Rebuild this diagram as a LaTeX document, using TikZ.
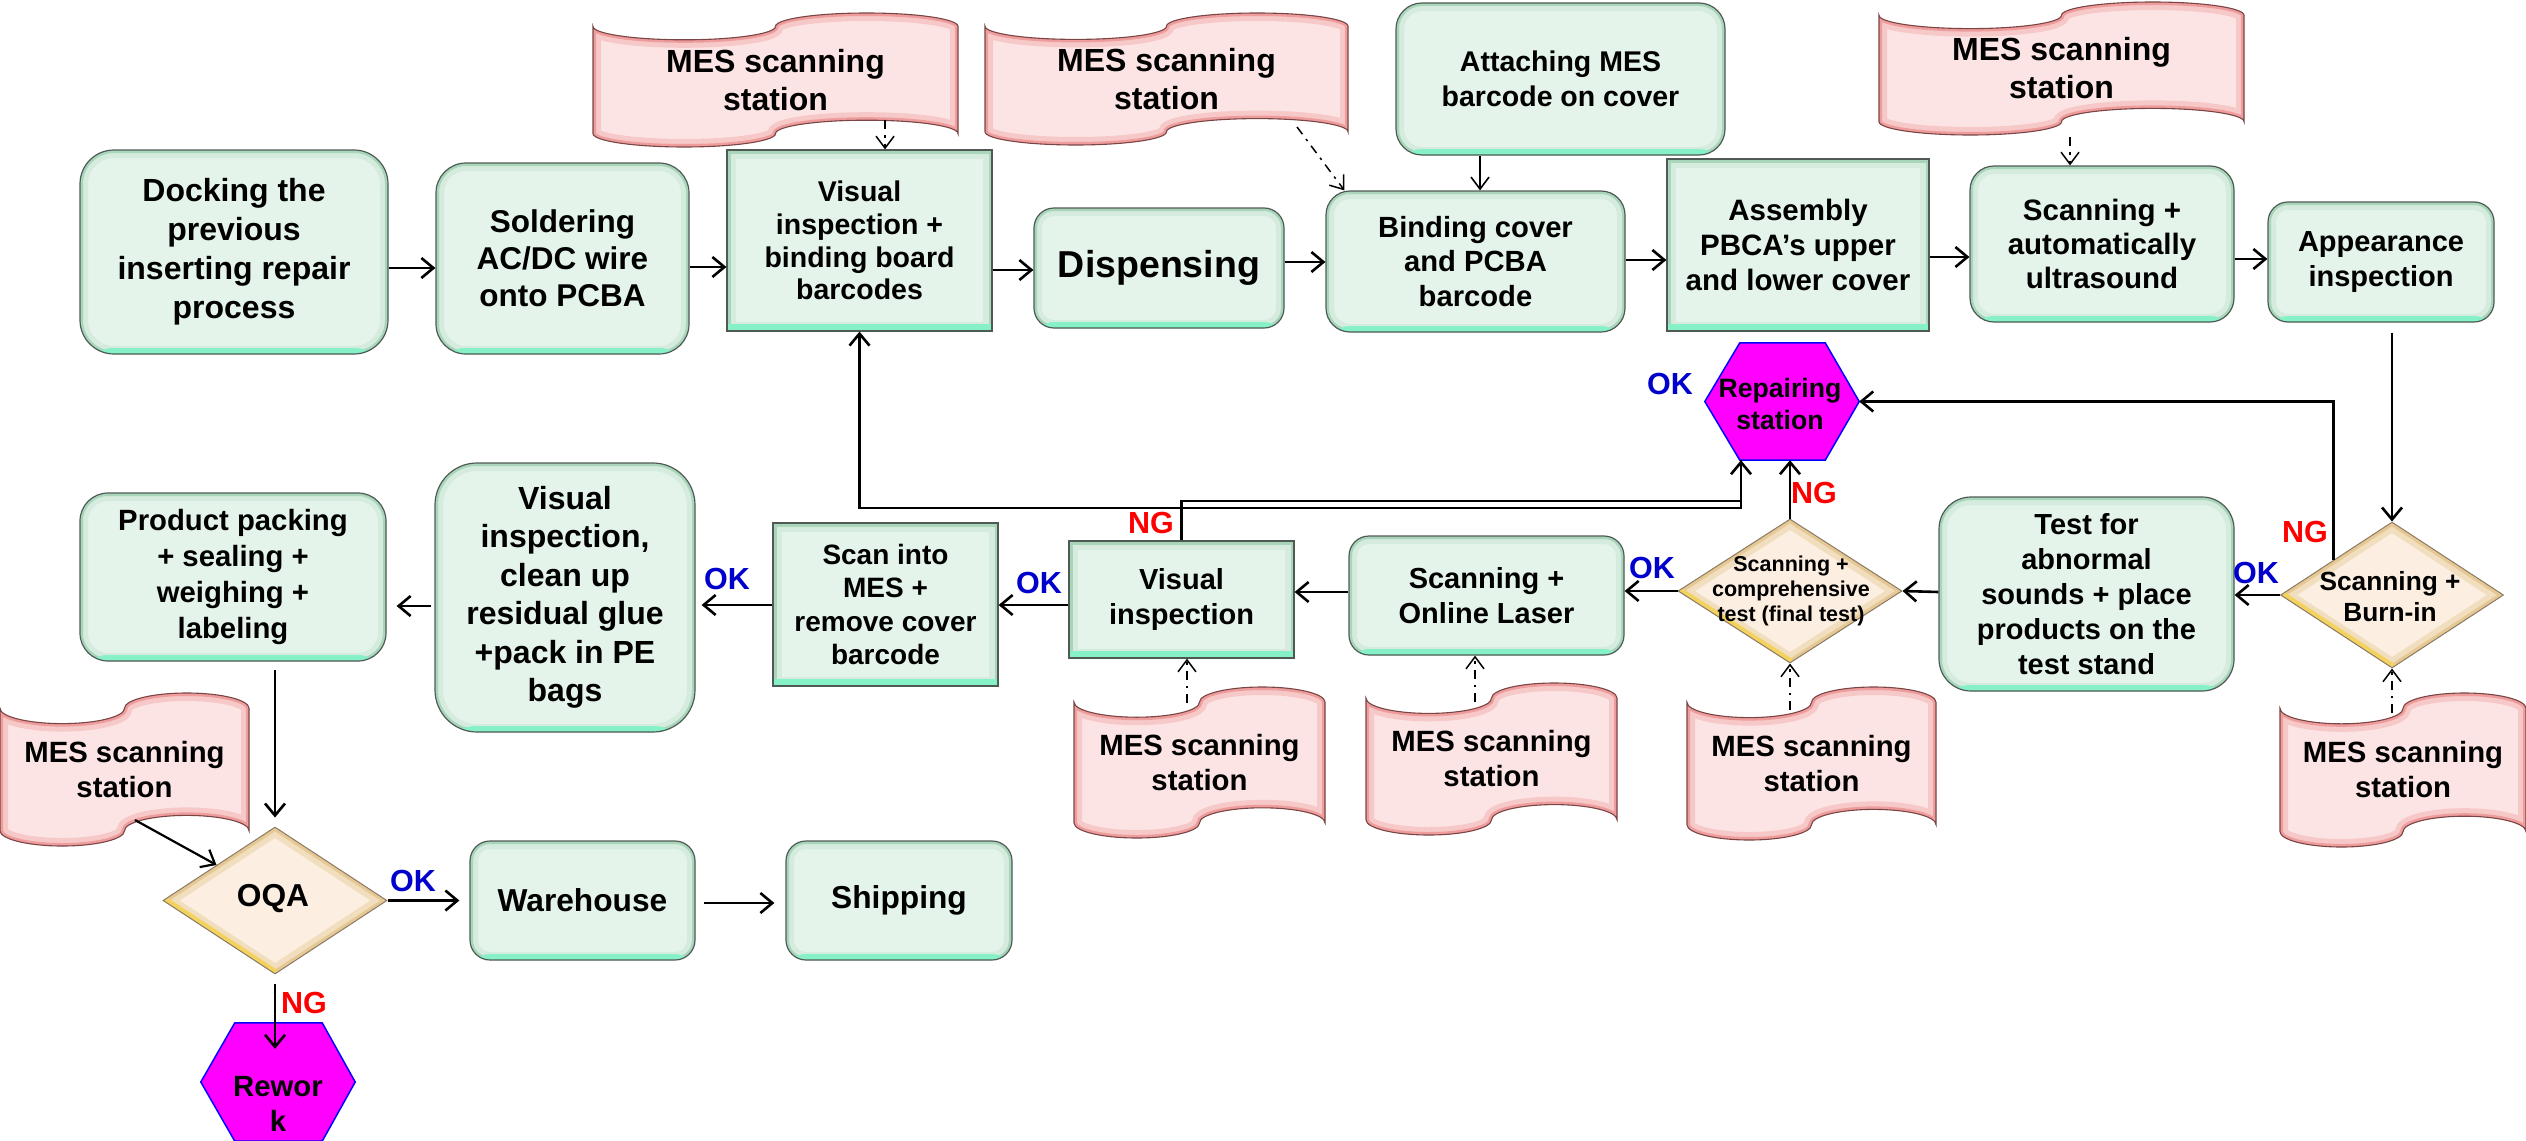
\documentclass[tikz,border=0pt]{standalone}
\usepackage{fontspec}
\setmainfont{Liberation Sans}
\usetikzlibrary{arrows.meta,shapes.geometric,calc}
\definecolor{boxfill}{HTML}{E4F4EA}
\definecolor{boxedge}{HTML}{A9D6BB}
\definecolor{boxmint}{HTML}{86F0C6}
\definecolor{boxborder}{HTML}{505A55}
\definecolor{diafill}{HTML}{FCEFE1}
\definecolor{diaedge}{HTML}{E6C894}
\definecolor{diayellow}{HTML}{F4D25E}
\definecolor{diaborder}{HTML}{8A7A66}
\definecolor{tapefill}{HTML}{FCE4E4}
\definecolor{tapeglow}{HTML}{EE9C9C}
\definecolor{tapeborder}{HTML}{7A4545}
\definecolor{okblue}{HTML}{0000CC}
\definecolor{ngred}{HTML}{FF0000}
\definecolor{hexmag}{HTML}{FF00FF}
\definecolor{hexblue}{HTML}{0000FF}
\newcommand\myfs[2]{\fontsize{#1pt}{#2pt}\selectfont\bfseries}
\newcommand\tape[6]{%
 \pgfmathsetmacro\tL{#2}\pgfmathsetmacro\tT{#3}\pgfmathsetmacro\tW{#4}\pgfmathsetmacro\tH{#5}%
 \pgfmathsetmacro\tq{\tW/4}\pgfmathsetmacro\ta{\tH/10}%
 \pgfmathsetmacro\tkq{0.5523*\tq}\pgfmathsetmacro\tka{0.5523*\ta}%
 \pgfmathsetmacro\xA{\tL}\pgfmathsetmacro\xB{\tL+\tq}\pgfmathsetmacro\xC{\tL+2*\tq}%
 \pgfmathsetmacro\xD{\tL+3*\tq}\pgfmathsetmacro\xE{\tL+\tW}%
 \pgfmathsetmacro\yA{\tT}\pgfmathsetmacro\yB{\tT+\ta}\pgfmathsetmacro\yC{\tT+2*\ta}%
 \pgfmathsetmacro\yD{\tT+\tH-2*\ta}\pgfmathsetmacro\yE{\tT+\tH-\ta}\pgfmathsetmacro\yF{\tT+\tH}%
 \def\tapeP{(\xA,\yB) .. controls (\xA,\yB+\tka) and (\xB-\tkq,\yC) .. (\xB,\yC)
   .. controls (\xB+\tkq,\yC) and (\xC,\yB+\tka) .. (\xC,\yB)
   .. controls (\xC,\yB-\tka) and (\xD-\tkq,\yA) .. (\xD,\yA)
   .. controls (\xD+\tkq,\yA) and (\xE,\yB-\tka) .. (\xE,\yB)
   -- (\xE,\yE)
   .. controls (\xE,\yE-\tka) and (\xD+\tkq,\yD) .. (\xD,\yD)
   .. controls (\xD-\tkq,\yD) and (\xC,\yE-\tka) .. (\xC,\yE)
   .. controls (\xC,\yE+\tka) and (\xB+\tkq,\yF) .. (\xB,\yF)
   .. controls (\xB-\tkq,\yF) and (\xA,\yE+\tka) .. (\xA,\yE) -- cycle}%
 \begin{scope}
  \clip \tapeP;
  \fill[tapefill] \tapeP;
  \draw[tapeglow!55, line width=16pt] \tapeP;
  \draw[tapeglow, line width=6pt] \tapeP;
 \end{scope}
 \draw[tapeborder, line width=1.1pt] \tapeP;
 \node[#6] (#1) at (\tL+\tW/2,\tT+\tH/2) {MES scanning\\station};
}
\tikzset{
 gbox/.style={draw=boxborder, line width=1.2pt, fill=boxfill, inner sep=0pt, align=center, rounded corners=#1,
   path picture={
     \draw[boxedge!50, line width=16pt, rounded corners=#1] (path picture bounding box.south west) rectangle (path picture bounding box.north east);
     \draw[boxedge, line width=6pt, rounded corners=#1] (path picture bounding box.south west) rectangle (path picture bounding box.north east);
     \fill[boxmint] ([yshift=6pt]path picture bounding box.south west) rectangle (path picture bounding box.south east);
   }},
 gbox/.default=24pt,
 sbox/.style={draw=boxborder, line width=1.2pt, fill=boxfill, inner sep=0pt, align=center,
   path picture={
     \draw[boxedge!50, line width=18pt] (path picture bounding box.south west) rectangle (path picture bounding box.north east);
     \draw[boxedge, line width=7pt] (path picture bounding box.south west) rectangle (path picture bounding box.north east);
     \fill[boxmint] ([yshift=7pt]path picture bounding box.south west) rectangle (path picture bounding box.south east);
   }},
 dia/.style={diamond, draw=diaborder, line width=1pt, fill=diafill, inner sep=0pt,
   path picture={
     \draw[diaedge!60, line width=18pt, line join=miter] (path picture bounding box.west) -- (path picture bounding box.north) -- (path picture bounding box.east) -- (path picture bounding box.south) -- cycle;
     \draw[diaedge, line width=7pt, line join=miter] (path picture bounding box.west) -- (path picture bounding box.north) -- (path picture bounding box.east) -- (path picture bounding box.south) -- cycle;
     \draw[diayellow, line width=9pt] (path picture bounding box.west) -- (path picture bounding box.south);
   }},
 hexs/.style={fill=hexmag, draw=hexblue, line width=1.5pt},
 mestop/.style={font=\myfs{32}{38}, align=center, inner sep=0pt},
 mesbot/.style={font=\myfs{29.3}{35}, align=center, inner sep=0pt},
 dtxt/.style={align=center, inner sep=0pt},
 arr/.style={line width=2.6pt, -{Straight Barb[length=12pt,width=20pt]}},
 arrthin/.style={line width=1.6pt, -{Straight Barb[length=12pt,width=18pt]}},
 darr/.style={line width=1.5pt, dash pattern=on 9pt off 6pt on 2.5pt off 6pt, -{Straight Barb[length=12pt,width=18pt]}},
 okl/.style={font=\myfs{30.5}{31}, text=okblue, inner sep=0pt},
 ngl/.style={font=\myfs{30.5}{31}, text=ngred, inner sep=0pt},
}
\begin{document}
\begin{tikzpicture}[x=1pt,y=-1pt]
\useasboundingbox (0,0) rectangle (2526,1140);
% tapes
\tape{T1}{593}{13}{365}{134}{mestop}
\tape{T2}{985}{13}{363}{132}{mestop}
\tape{T3}{1879}{2}{365}{133}{mestop}
\tape{T4}{1074}{687}{251}{151}{mesbot}
\tape{T5}{1366}{683}{251}{152}{mesbot}
\tape{T6}{1687}{687}{249}{153}{mesbot}
\tape{T7}{2280}{693}{246}{154}{mesbot}
\tape{T8}{0}{693}{249}{153}{mesbot}
% top row
\node[gbox=34pt, minimum width=308pt, minimum height=204pt, font=\myfs{32}{39}] (N1) at (234,252) {Docking the\\previous\\inserting repair\\process};
\node[gbox=30pt, minimum width=253pt, minimum height=191pt, font=\myfs{31.5}{37}] (N2) at (562.5,258.5) {Soldering\\AC/DC wire\\onto PCBA};
\node[sbox, minimum width=265pt, minimum height=181pt, font=\myfs{28.5}{32.7}] (N3) at (859.5,240.5) {Visual\\inspection +\\binding board\\barcodes};
\node[gbox=20pt, minimum width=250pt, minimum height=120pt, font=\myfs{37.5}{40}] (N4) at (1159,268) {Dispensing};
\node[gbox=24pt, minimum width=299pt, minimum height=141pt, font=\myfs{29.2}{34.6}] (N5) at (1475.5,261.5) {Binding cover\\and PCBA\\barcode};
\node[gbox=26pt, minimum width=329pt, minimum height=152pt, font=\myfs{28.5}{35}] (N6) at (1560.5,79) {Attaching MES\\barcode on cover};
\node[sbox, minimum width=262pt, minimum height=172pt, font=\myfs{29.5}{35}] (N7) at (1798,245) {Assembly\\PBCA’s upper\\and lower cover};
\node[gbox=24pt, minimum width=264pt, minimum height=156pt, font=\myfs{29.5}{34}] (N8) at (2102,244) {Scanning +\\automatically\\ultrasound};
\node[gbox=20pt, minimum width=226pt, minimum height=120pt, font=\myfs{29}{35}] (N9) at (2381,262) {Appearance\\inspection};
% bottom row
\node[gbox=32pt, minimum width=295pt, minimum height=194pt, font=\myfs{29}{35}] (B1) at (2086.5,594) {Test for\\abnormal\\sounds + place\\products on the\\test stand};
\node[gbox=20pt, minimum width=275pt, minimum height=119pt, font=\myfs{29}{35}] (B2) at (1486.5,595.5) {Scanning +\\Online Laser};
\node[sbox, minimum width=225pt, minimum height=117pt, font=\myfs{29}{35}] (B3) at (1181.5,599.5) {Visual\\inspection};
\node[sbox, minimum width=225pt, minimum height=163pt, font=\myfs{28}{33.5}] (B4) at (885.5,604.5) {Scan into\\MES +\\remove cover\\barcode};
\node[gbox=42pt, minimum width=260pt, minimum height=269pt, font=\myfs{32}{38.5}] (B5) at (565,597.5) {Visual\\inspection,\\clean up\\residual glue\\+pack in PE\\bags};
\node[gbox=28pt, minimum width=306pt, minimum height=168pt, font=\myfs{29.3}{35.7}] (B6) at (233,577) {Product packing\\+ sealing +\\weighing +\\labeling};
\node[gbox=20pt, minimum width=225pt, minimum height=119pt, font=\myfs{31.7}{36}] (B7) at (582.5,900.5) {Warehouse};
\node[gbox=20pt, minimum width=226pt, minimum height=119pt, font=\myfs{31.7}{36}] (B8) at (899,900.5) {Shipping};
% diamonds
\node[dia, minimum width=223pt, minimum height=146pt] (D1) at (2392,595) {};
\node[dtxt, font=\myfs{26.3}{31}] (D1t) at (2390,597) {Scanning +\\Burn-in};
\node[dia, minimum width=224pt, minimum height=144pt] (D2) at (1790,591) {};
\node[dtxt, font=\myfs{21.5}{25}] (D2t) at (1791,591) {Scanning +\\comprehensive\\test (final test)};
\node[dia, minimum width=224pt, minimum height=147pt] (D3) at (275,900.5) {};
\node[dtxt, font=\myfs{31.7}{36}] (D3t) at (273,899) {OQA};
% hexagons
\node[minimum width=154pt, minimum height=117pt, inner sep=0pt] (H1) at (1782,401.5) {};
\filldraw[hexs] ([xshift=35pt]H1.north west) -- ([xshift=-34pt]H1.north east) -- (H1.east) -- ([xshift=-34pt]H1.south east) -- ([xshift=35pt]H1.south west) -- (H1.west) -- cycle;
\node[dtxt, font=\myfs{26.6}{31.7}] (H1t) at (1780,404) {Repairing\\station};
\node[minimum width=154pt, minimum height=118pt, inner sep=0pt] (H2) at (278,1082) {};
\filldraw[hexs] ([xshift=34pt]H2.north west) -- ([xshift=-33pt]H2.north east) -- (H2.east) -- ([xshift=-33pt]H2.south east) -- ([xshift=34pt]H2.south west) -- (H2.west) -- cycle;
\node[dtxt, font=\myfs{29.3}{35}] (H2t) at (278,1104) {Rewor\\k};
% coordinates
\coordinate (T1s) at (885,120);
\coordinate (T2s) at (1297,127);
\coordinate (T3s) at (2070,137);
\coordinate (T4s) at (1187,703);
\coordinate (T5s) at (1475,702);
\coordinate (T6s) at (1790,710);
\coordinate (T7s) at (2392,713);
\coordinate (T8s) at (135,820);
\coordinate (J1) at (1741,501);
\coordinate (J2) at (1741,508);
\coordinate (H2in) at ([yshift=-26pt]H2.north);
% top row connectors
\draw[arr] (N1.east |- 0,268) -- (N2.west |- 0,268);
\draw[arr] (N2.east |- 0,267) -- (N3.west |- 0,267);
\draw[arr] (N3.east |- 0,270) -- (N4.west |- 0,270);
\draw[arr] (N4.east |- 0,262) -- (N5.west |- 0,262);
\draw[arr] (N5.east |- 0,260) -- (N7.west |- 0,260);
\draw[arr] (N7.east |- 0,257) -- (N8.west |- 0,257);
\draw[arr] (N8.east |- 0,259) -- (N9.west |- 0,259);
\draw[darr] (T1s) -- (T1s |- N3.north);
\draw[darr] (T2s) -- ([xshift=19pt]N5.north west);
\draw[arrthin] (N6.south -| 1480,0) -- (N5.north -| 1480,0);
\draw[darr] (T3s) -- (T3s |- N8.north);
\draw[arr, shorten <=10pt] (N9.south -| D1.north) -- (D1.north);
% bottom row connectors
\draw[arr] (D1.west) -- (B1.east |- D1.west);
\draw[arr] (B1.west |- 0,592) -- (D2.east);
\draw[arr] (D2.west) -- (B2.east |- D2.west);
\draw[arr] (B2.west |- 0,592) -- (B3.east |- 0,592);
\draw[arr] (B3.west |- 0,605) -- (B4.east |- 0,605);
\draw[arr, shorten >=6pt] (B4.west |- 0,605) -- (B5.east |- 0,605);
\draw[arr, shorten <=3pt, shorten >=10pt] (B5.west |- 0,606) -- (B6.east |- 0,606);
\draw[arr, shorten <=8pt, shorten >=9pt] (B6.south -| D3.north) -- (D3.north);
\draw[arr, line width=2.2pt] (T8s) -- ($(D3.west)!0.48!(D3.north)$);
\draw[arr, shorten >=10pt] (D3.east) -- (B7.west |- D3.east);
\draw[arr, shorten <=8pt, shorten >=11pt] (B7.east |- 0,903) -- (B8.west |- 0,903);
\draw[arr, shorten <=9pt] (D3.south) -- (H2in -| D3.south);
% NG / OK loops
\draw[arr] (D2.north) -- (D2.north |- H1.south);
\draw[arr] ($(D1.west)!0.48!(D1.north)$) |- (H1.east);
\draw[arr] (B3.north) |- (J1) -- (J1 |- H1.south);
\draw[arr] (J1 |- H1.south) -- (J2) -| (N3.south);
% MES dashed connectors
\draw[darr] (T4s) -- (T4s |- B3.south);
\draw[darr] (T5s) -- (T5s |- B2.south);
\draw[darr] (T6s) -- (D2.south);
\draw[darr] (T7s) -- (D1.south);
% labels
\node[okl] (L1) at (1670,384) {OK};
\node[ngl] (L2) at (1814,493) {NG};
\node[ngl] (L3) at (2305,532) {NG};
\node[okl] (L4) at (2256,573) {OK};
\node[okl] (L5) at (1652,568) {OK};
\node[ngl] (L6) at (1151,523) {NG};
\node[okl] (L7) at (1039,583) {OK};
\node[okl] (L8) at (727,579) {OK};
\node[okl] (L9) at (413,881) {OK};
\node[ngl] (L10) at (304,1003) {NG};
\end{tikzpicture}
\end{document}
